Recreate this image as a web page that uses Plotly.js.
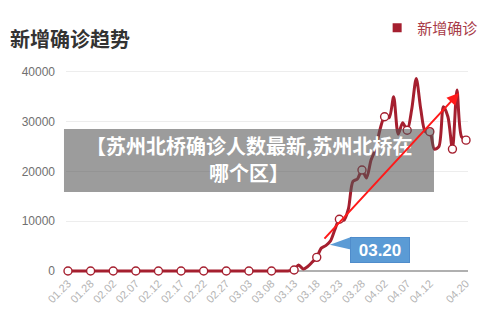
<!DOCTYPE html>
<html>
<head>
<meta charset="utf-8">
<script src="https://cdn.plot.ly/plotly-3.0.1.min.js"></script>
<style>
html,body{margin:0;padding:0;background:#fff;}
#chart{width:500px;height:321px;}
</style>
</head>
<body>
<div id="chart"></div>
<script>
// ---- data ----
const dates = [
  "01.23","01.24","01.25","01.26","01.27","01.28","01.29","01.30","01.31","02.01",
  "02.02","02.03","02.04","02.05","02.06","02.07","02.08","02.09","02.10","02.11",
  "02.12","02.13","02.14","02.15","02.16","02.17","02.18","02.19","02.20","02.21",
  "02.22","02.23","02.24","02.25","02.26","02.27","02.28","02.29","03.01","03.02",
  "03.03","03.04","03.05","03.06","03.07","03.08","03.09","03.10","03.11","03.12",
  "03.13","03.14","03.15","03.16","03.17","03.18","03.19","03.20","03.21","03.22",
  "03.23","03.24","03.25","03.26","03.27","03.28","03.29","03.30","03.31","04.01",
  "04.02","04.03","04.04","04.05","04.06","04.07","04.08","04.09","04.10","04.11",
  "04.12","04.13","04.14","04.15","04.16","04.17","04.18","04.19","04.20"
];
const newCases = [
  0,0,0,0,0,0,0,0,0,0,
  0,0,0,0,0,0,0,0,0,0,
  0,0,0,0,0,0,0,0,0,0,
  0,0,0,0,0,0,0,0,0,0,
  0,0,0,0,0,0,0,0,0,50,
  200,1200,400,900,1800,2750,4600,5100,6000,8300,
  10400,10200,12500,18000,18500,20300,18700,22300,24500,28500,
  31000,30800,35000,27500,29800,28300,32500,38700,32500,28000,
  28000,24500,25000,33000,31000,24500,36400,27000,26300
];
const tickLabels = ["01.23","01.28","02.02","02.07","02.12","02.17","02.22","02.27","03.03","03.08",
  "03.13","03.18","03.23","03.28","04.02","04.07","04.12","04.20"];
const yTicks = [0,10000,20000,30000,40000];
const markedDates = ["01.23","01.28","02.02","02.07","02.12","02.17","02.22","02.27","03.03","03.08",
  "03.13","03.18","03.23","03.28","04.02","04.07","04.12","04.17","04.20"];
const seriesName = "新增确诊";
const chartTitle = "新增确诊趋势";
const calloutDate = "03.20";
const overlayLine1 = "【苏州北桥确诊人数最新,苏州北桥在";
const overlayLine2 = "哪个区】";
// trend arrow (index, value) start and end
const arrowFrom = [56.4, 6200];
const arrowTo = [86.45, 35800];

// ---- styles ----
const lineColor = "#a51f2f";
const cjk = "'Noto Sans CJK SC', 'Noto Sans', sans-serif";
const num = "'Liberation Sans', Arial, sans-serif";

const markerSizes = dates.map(d => markedDates.includes(d) ? 8 : 0);
const calloutIdx = dates.indexOf(calloutDate);
const calloutVal = newCases[calloutIdx];

const traces = [
  {
    x: dates, y: newCases, type: "scatter", mode: "lines",
    line: {color: lineColor, width: 3, shape: "spline", smoothing: 0.8},
    showlegend: false, hoverinfo: "x+y", cliponaxis: false
  },
  {
    x: dates, y: newCases, type: "scatter", mode: "markers",
    marker: {size: markerSizes, color: "#ffffff", opacity: 1, line: {color: lineColor, width: 1.4}},
    showlegend: false, hoverinfo: "skip", cliponaxis: false
  },
  {
    x: [null], y: [null], type: "scatter", mode: "markers", name: seriesName,
    marker: {symbol: "square", size: 9, color: lineColor}, showlegend: true
  }
];

const layout = {
  width: 500, height: 321,
  margin: {l: 66, r: 32, t: 69, b: 47},
  paper_bgcolor: "#ffffff", plot_bgcolor: "#ffffff",
  title: {text: chartTitle, x: 0.02, xanchor: "left", y: 0.875, yanchor: "middle",
          font: {family: cjk, size: 20, color: "#333333", weight: "bold"}},
  showlegend: true,
  legend: {orientation: "h", x: 0.774, xanchor: "left", y: 1.2, yanchor: "middle",
           font: {family: cjk, size: 15, color: "#a83c48"}, itemwidth: 30, bgcolor: "rgba(0,0,0,0)"},
  xaxis: {
    type: "category", range: [-0.44, 88.44],
    tickvals: tickLabels, ticktext: tickLabels, tickangle: -45,
    tickfont: {family: num, size: 11, color: "#b4b4b4"},
    showgrid: false, showline: false, zeroline: false, ticks: ""
  },
  yaxis: {
    range: [-600, 40600], tickvals: yTicks, ticktext: yTicks.map(String),
    tickfont: {family: num, size: 12, color: "#707070"},
    showgrid: true, gridcolor: "#ededed", gridwidth: 1,
    zeroline: true, zerolinecolor: "#b0b0b0", zerolinewidth: 2,
    showline: false, ticks: "", ticklabelstandoff: 10
  },
  shapes: [
    // dark translucent overlay banner
    {type: "rect", xref: "paper", yref: "paper", x0: -0.005, x1: 0.9154, y0: 0.40, y1: 0.7073,
     fillcolor: "rgba(85,85,85,0.58)", line: {width: 0}, layer: "above"},
    // callout tail
    {type: "path", xref: "x", yref: "y", xsizemode: "pixel", ysizemode: "pixel",
     xanchor: calloutIdx, yanchor: calloutVal,
     path: "M 4 1 L 26 9 L 26 -4 Z", fillcolor: "#5b9bd5", line: {width: 0}, layer: "above"}
  ],
  annotations: [
    {xref: "paper", yref: "paper", x: 0.456, y: 0.627, xanchor: "center", yanchor: "middle",
     text: overlayLine1, showarrow: false,
     font: {family: cjk, size: 20, color: "#ffffff", weight: "bold"}},
    {xref: "paper", yref: "paper", x: 0.456, y: 0.495, xanchor: "center", yanchor: "middle",
     text: overlayLine2, showarrow: false,
     font: {family: cjk, size: 20, color: "#ffffff", weight: "bold"}},
    {x: calloutIdx, y: calloutVal, xref: "x", yref: "y", text: calloutDate, showarrow: false,
     xshift: 54.5, yshift: -4.5, width: 56, height: 22, bgcolor: "#5b9bd5",
     bordercolor: "#4f8ccb", borderwidth: 1, borderpad: 1,
     font: {family: num, size: 17, color: "#ffffff", weight: "bold"}},
    {x: arrowTo[0], y: arrowTo[1], ax: arrowFrom[0], ay: arrowFrom[1],
     xref: "x", yref: "y", axref: "x", ayref: "y", text: "", showarrow: true,
     arrowhead: 2, arrowsize: 1.2, arrowwidth: 2, arrowcolor: "#ff1a1a", standoff: 0}
  ],
  hovermode: false
};

Plotly.newPlot("chart", traces, layout, {displayModeBar: false, staticPlot: true});
</script>
</body>
</html>
